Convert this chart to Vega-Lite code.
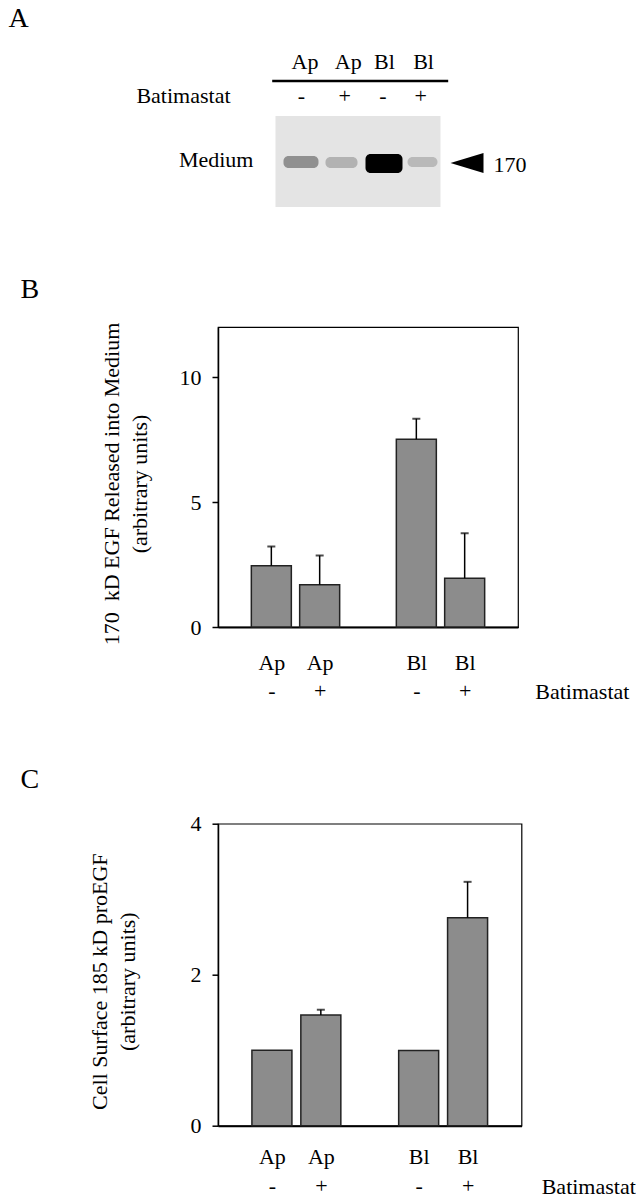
{
  "$schema": "https://vega.github.io/schema/vega-lite/v6.json",
  "background": "white",
  "autosize": {"type": "pad"},
  "padding": {"left": 8, "top": 5, "right": 0, "bottom": 0},
  "spacing": 120,
  "bounds": "flush",
  "config": {
    "font": "Liberation Serif",
    "text": {"font": "Liberation Serif", "color": "black"},
    "axis": {"labelFont": "Liberation Serif", "titleFont": "Liberation Serif", "labelColor": "black", "titleColor": "black", "grid": false}
  },
  "vconcat": [
    {
      "width": 302,
      "height": 160,
      "view": {"stroke": null},
      "encoding": {
        "x": {"field": "x", "type": "quantitative", "scale": {"domain": [-1.1, 6.5], "nice": false, "zero": false}, "axis": null},
        "y": {"field": "y", "type": "quantitative", "scale": {"domain": [0, 10], "nice": false, "zero": false, "reverse": true}, "axis": null}
      },
      "layer": [
        {
          "data": {"values": [{"x": 0.347, "x2": 4.499, "y": 4.31, "y2": 10}]},
          "mark": {"type": "rect", "fill": "#e4e4e4"},
          "encoding": {"x2": {"field": "x2"}, "y2": {"field": "y2"}}
        },
        {
          "data": {"values": [
            {"lane": "Ap -", "signal": 0.34, "x": 0.548, "x2": 1.429, "y": 6.81, "y2": 7.56},
            {"lane": "Ap +", "signal": 0.2, "x": 1.605, "x2": 2.411, "y": 6.875, "y2": 7.56},
            {"lane": "Bl -", "signal": 1.0, "x": 2.612, "x2": 3.543, "y": 6.69, "y2": 7.875},
            {"lane": "Bl +", "signal": 0.17, "x": 3.669, "x2": 4.424, "y": 6.875, "y2": 7.5}
          ]},
          "mark": {"type": "rect", "cornerRadius": 5},
          "encoding": {
            "x2": {"field": "x2"},
            "y2": {"field": "y2"},
            "color": {"field": "signal", "type": "quantitative", "scale": {"domain": [0, 1], "range": ["#e4e4e4", "#000000"]}, "legend": null}
          }
        },
        {
          "data": {"values": [{"x": 0.264, "x2": 4.693, "y": 2.125}]},
          "mark": {"type": "rule", "strokeWidth": 2.5, "color": "black"},
          "encoding": {"x2": {"field": "x2"}}
        },
        {
          "data": {"values": [
            {"text": "Ap", "x": 1.089, "y": 1.375},
            {"text": "Ap", "x": 2.177, "y": 1.375},
            {"text": "Bl", "x": 3.09, "y": 1.375},
            {"text": "Bl", "x": 4.072, "y": 1.375},
            {"text": "-", "x": 1.0, "y": 3.52},
            {"text": "+", "x": 2.09, "y": 3.52},
            {"text": "-", "x": 3.05, "y": 3.52},
            {"text": "+", "x": 4.0, "y": 3.52}
          ]},
          "mark": {"type": "text", "align": "center", "baseline": "alphabetic", "fontSize": 22},
          "encoding": {"text": {"field": "text"}}
        },
        {
          "data": {"values": [
            {"text": "Batimastat", "x": -0.785, "y": 3.52},
            {"text": "Medium", "x": -0.207, "y": 7.52}
          ]},
          "mark": {"type": "text", "align": "right", "baseline": "alphabetic", "fontSize": 22},
          "encoding": {"text": {"field": "text"}}
        },
        {
          "data": {"values": [{"text": "170", "x": 5.833, "y": 7.79}]},
          "mark": {"type": "text", "align": "left", "baseline": "alphabetic", "fontSize": 22},
          "encoding": {"text": {"field": "text"}}
        },
        {
          "data": {"values": [{"text": "A", "x": -6.372, "y": -1.25}]},
          "mark": {"type": "text", "align": "left", "baseline": "alphabetic", "fontSize": 28},
          "encoding": {"text": {"field": "text"}}
        },
        {
          "data": {"values": [{"marker": "170 kD", "x": 5.166, "y": 7.25}]},
          "mark": {"type": "point", "shape": "M1,-0.6L-1,0L1,0.6Z", "size": 1089, "filled": true, "color": "black", "opacity": 1}
        }
      ]
    },
    {
      "spacing": 196.7,
      "bounds": "flush",
      "vconcat": [
        {
          "width": 300,
          "height": 300,
          "view": {"stroke": "black", "strokeWidth": 1.2},
          "data": {"values": [
            {"cell": "Ap", "batimastat": "-", "pos": 1, "value": 2.45, "upper": 3.22},
            {"cell": "Ap", "batimastat": "+", "pos": 2, "value": 1.69, "upper": 2.86},
            {"cell": "Bl", "batimastat": "-", "pos": 4, "value": 7.51, "upper": 8.33},
            {"cell": "Bl", "batimastat": "+", "pos": 5, "value": 1.95, "upper": 3.75}
          ]},
          "encoding": {
            "x": {
              "field": "pos", "type": "quantitative",
              "scale": {"domain": [0, 6], "nice": false, "zero": false},
              "axis": {
                "values": [1, 2, 4, 5],
                "labelExpr": "datum.value == 1 ? ['Ap', '-'] : datum.value == 2 ? ['Ap', '+'] : datum.value == 4 ? ['Bl', '-'] : ['Bl', '+']",
                "ticks": false, "tickSize": 0,
                "domain": true, "domainColor": "black", "domainWidth": 2,
                "labelFont": "Liberation Serif", "labelFontSize": 22, "labelPadding": 42, "labelBaseline": "alphabetic", "labelLineHeight": 28.5,
                "labelOverlap": false, "labelFlush": false,
                "title": "Batimastat", "titleFont": "Liberation Serif", "titleFontSize": 22, "titleFontWeight": "normal",
                "titleAlign": "left", "titleBaseline": "alphabetic", "titleX": 316.8, "titleY": 71.3
              }
            }
          },
          "layer": [
            {
              "mark": {"type": "bar", "orient": "vertical", "width": 40, "fill": "#8c8c8c", "stroke": "#222222", "strokeWidth": 1.5},
              "encoding": {
                "y": {
                  "field": "value", "type": "quantitative",
                  "scale": {"domain": [0, 12], "nice": false, "zero": true},
                  "axis": {
                    "values": [0, 5, 10], "format": "d", "tickSize": 6, "tickColor": "black", "tickWidth": 1.5,
                    "domainColor": "black", "domainWidth": 1.5,
                    "labelFont": "Liberation Serif", "labelFontSize": 22, "labelPadding": 11,
                    "title": ["170\u00a0 kD EGF Released into Medium", "(arbitrary units)"],
                    "titleFont": "Liberation Serif", "titleFontSize": 22, "titleFontWeight": "normal", "titleAngle": 270,
                    "titleAlign": "center", "titleBaseline": "alphabetic", "titleLineHeight": 28,
                    "titleX": -99.5, "titleY": 156.5
                  }
                }
              }
            },
            {
              "mark": {"type": "rule", "color": "black", "strokeWidth": 1.5},
              "encoding": {
                "y": {"field": "value", "type": "quantitative", "scale": {"domain": [0, 12], "nice": false, "zero": true}},
                "y2": {"field": "upper"}
              }
            },
            {
              "mark": {"type": "tick", "orient": "horizontal", "size": 8, "thickness": 2, "color": "black"},
              "encoding": {
                "y": {"field": "upper", "type": "quantitative", "scale": {"domain": [0, 12], "nice": false, "zero": true}}
              }
            },
            {
              "data": {"values": [{"panel": "B", "pos": -4.19, "yv": 13.15}]},
              "mark": {"type": "text", "align": "left", "baseline": "alphabetic", "fontSize": 28},
              "encoding": {
                "y": {"field": "yv", "type": "quantitative", "scale": {"domain": [0, 12], "nice": false, "zero": true}},
                "text": {"field": "panel"}
              }
            }
          ]
        },
        {
          "width": 303.5,
          "height": 302,
          "view": {"stroke": "black", "strokeWidth": 1.2},
          "data": {"values": [
            {"cell": "Ap", "batimastat": "-", "pos": 1, "value": 1.0, "upper": null},
            {"cell": "Ap", "batimastat": "+", "pos": 2, "value": 1.466, "upper": 1.536},
            {"cell": "Bl", "batimastat": "-", "pos": 4, "value": 0.997, "upper": null},
            {"cell": "Bl", "batimastat": "+", "pos": 5, "value": 2.755, "upper": 3.23}
          ]},
          "encoding": {
            "x": {
              "field": "pos", "type": "quantitative",
              "scale": {"domain": [0, 6], "nice": false, "zero": false},
              "axis": {
                "values": [1, 2, 4, 5],
                "labelExpr": "datum.value == 1 ? ['Ap', '-'] : datum.value == 2 ? ['Ap', '+'] : datum.value == 4 ? ['Bl', '-'] : ['Bl', '+']",
                "ticks": false, "tickSize": 0,
                "domain": true, "domainColor": "black", "domainWidth": 2,
                "labelFont": "Liberation Serif", "labelFontSize": 22, "labelPadding": 38, "labelBaseline": "alphabetic", "labelLineHeight": 28.5,
                "labelOverlap": false, "labelFlush": false,
                "title": "Batimastat", "titleFont": "Liberation Serif", "titleFontSize": 22, "titleFontWeight": "normal",
                "titleAlign": "left", "titleBaseline": "alphabetic", "titleX": 323.2, "titleY": 67.3
              }
            }
          },
          "layer": [
            {
              "mark": {"type": "bar", "orient": "vertical", "width": 40, "fill": "#8c8c8c", "stroke": "#222222", "strokeWidth": 1.5},
              "encoding": {
                "y": {
                  "field": "value", "type": "quantitative",
                  "scale": {"domain": [0, 4], "nice": false, "zero": true},
                  "axis": {
                    "values": [0, 2, 4], "format": "d", "tickSize": 6, "tickColor": "black", "tickWidth": 1.5,
                    "domainColor": "black", "domainWidth": 1.5,
                    "labelFont": "Liberation Serif", "labelFontSize": 22, "labelPadding": 11,
                    "title": ["Cell Surface 185 kD proEGF", "(arbitrary units)"],
                    "titleFont": "Liberation Serif", "titleFontSize": 22, "titleFontWeight": "normal", "titleAngle": 270,
                    "titleAlign": "center", "titleBaseline": "alphabetic", "titleLineHeight": 28,
                    "titleX": -111.5, "titleY": 157.5
                  }
                }
              }
            },
            {
              "transform": [{"filter": "datum.upper != null"}],
              "mark": {"type": "rule", "color": "black", "strokeWidth": 1.5},
              "encoding": {
                "y": {"field": "value", "type": "quantitative", "scale": {"domain": [0, 4], "nice": false, "zero": true}},
                "y2": {"field": "upper"}
              }
            },
            {
              "transform": [{"filter": "datum.upper != null"}],
              "mark": {"type": "tick", "orient": "horizontal", "size": 8, "thickness": 2, "color": "black"},
              "encoding": {
                "y": {"field": "upper", "type": "quantitative", "scale": {"domain": [0, 4], "nice": false, "zero": true}}
              }
            },
            {
              "data": {"values": [{"panel": "C", "pos": -4.142, "yv": 4.473}]},
              "mark": {"type": "text", "align": "left", "baseline": "alphabetic", "fontSize": 28},
              "encoding": {
                "y": {"field": "yv", "type": "quantitative", "scale": {"domain": [0, 4], "nice": false, "zero": true}},
                "text": {"field": "panel"}
              }
            }
          ]
        }
      ]
    }
  ]
}
